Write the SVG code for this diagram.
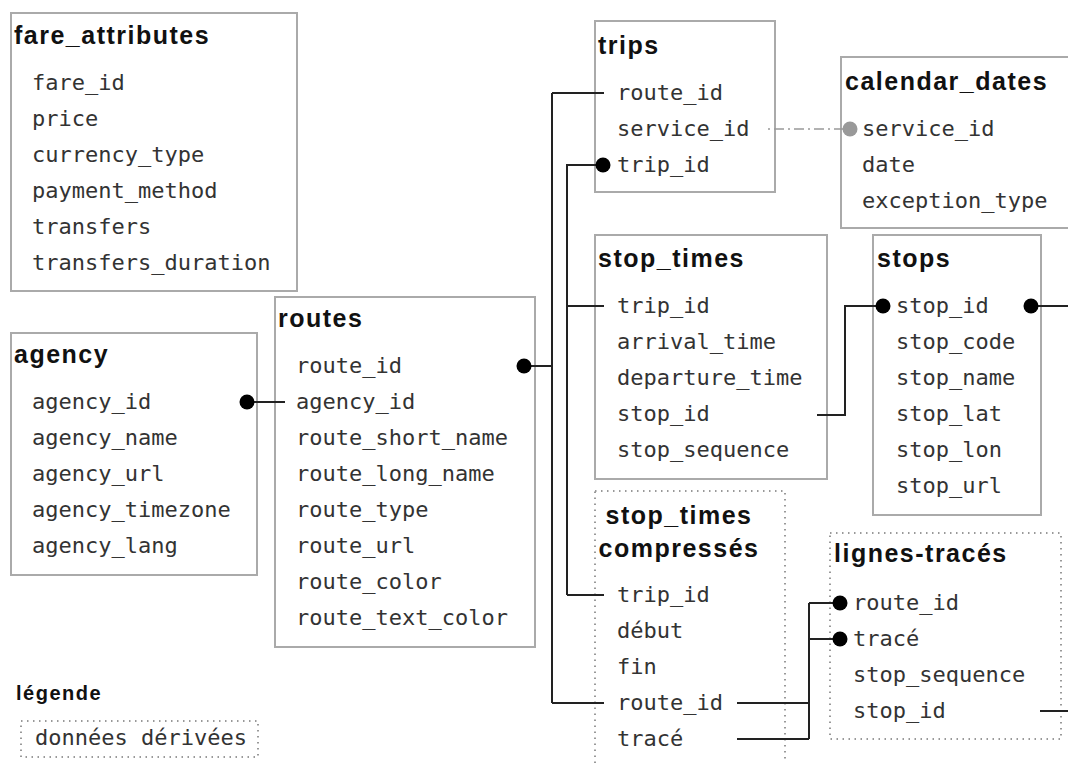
<svg xmlns="http://www.w3.org/2000/svg" width="1068" height="763" viewBox="0 0 1068 763">
  <style>
    .box { fill: #fff; stroke: #aaa; stroke-width: 2; }
    .derived { fill: #fff; stroke: #999; stroke-width: 2; stroke-dasharray: 1.5 4.5; }
    .title { font-family: "Liberation Sans", Arial, sans-serif; font-weight: bold; font-size: 25px; letter-spacing: 1.5px; fill: #111; }
    .field { font-family: "DejaVu Sans Mono", monospace; font-size: 22px; fill: #333; }
    .link { fill: none; stroke: #222; stroke-width: 2; }
    .soft { fill: none; stroke: #999; stroke-width: 1.5; stroke-dasharray: 2 4 10 4; }
    .key { fill: #000; }
    .softkey { fill: #999; }
  </style>

  <g id="fare_attributes">
    <rect class="box" x="11" y="13" width="286" height="278"/>
    <text class="title" x="14" y="44">fare_attributes</text>
    <text class="field" x="32" y="90">fare_id</text>
    <text class="field" x="32" y="126">price</text>
    <text class="field" x="32" y="162">currency_type</text>
    <text class="field" x="32" y="198">payment_method</text>
    <text class="field" x="32" y="234">transfers</text>
    <text class="field" x="32" y="270">transfers_duration</text>
  </g>

  <g id="agency">
    <rect class="box" x="11" y="333" width="246" height="242"/>
    <text class="title" x="14" y="363">agency</text>
    <text class="field" x="32" y="409">agency_id</text>
    <text class="field" x="32" y="445">agency_name</text>
    <text class="field" x="32" y="481">agency_url</text>
    <text class="field" x="32" y="517">agency_timezone</text>
    <text class="field" x="32" y="553">agency_lang</text>
  </g>

  <g id="routes">
    <rect class="box" x="275" y="297" width="260" height="350"/>
    <text class="title" x="278" y="327">routes</text>
    <text class="field" x="296" y="373">route_id</text>
    <text class="field" x="296" y="409">agency_id</text>
    <text class="field" x="296" y="445">route_short_name</text>
    <text class="field" x="296" y="481">route_long_name</text>
    <text class="field" x="296" y="517">route_type</text>
    <text class="field" x="296" y="553">route_url</text>
    <text class="field" x="296" y="589">route_color</text>
    <text class="field" x="296" y="625">route_text_color</text>
  </g>

  <g id="trips">
    <rect class="box" x="595" y="21" width="180" height="171"/>
    <text class="title" x="598" y="54">trips</text>
    <text class="field" x="617" y="100">route_id</text>
    <text class="field" x="617" y="136">service_id</text>
    <text class="field" x="617" y="172">trip_id</text>
  </g>

  <g id="calendar_dates">
    <rect class="box" x="841" y="57" width="240" height="171"/>
    <text class="title" x="845" y="90">calendar_dates</text>
    <text class="field" x="862" y="136">service_id</text>
    <text class="field" x="862" y="172">date</text>
    <text class="field" x="862" y="208">exception_type</text>
  </g>

  <g id="stop_times">
    <rect class="box" x="595" y="235" width="232" height="244"/>
    <text class="title" x="598" y="267">stop_times</text>
    <text class="field" x="617" y="313">trip_id</text>
    <text class="field" x="617" y="349">arrival_time</text>
    <text class="field" x="617" y="385">departure_time</text>
    <text class="field" x="617" y="421">stop_id</text>
    <text class="field" x="617" y="457">stop_sequence</text>
  </g>

  <g id="stops">
    <rect class="box" x="873" y="235" width="168" height="280"/>
    <text class="title" x="877" y="267">stops</text>
    <text class="field" x="896" y="313">stop_id</text>
    <text class="field" x="896" y="349">stop_code</text>
    <text class="field" x="896" y="385">stop_name</text>
    <text class="field" x="896" y="421">stop_lat</text>
    <text class="field" x="896" y="457">stop_lon</text>
    <text class="field" x="896" y="493">stop_url</text>
  </g>

  <g id="stop_times_compresses">
    <rect class="derived" x="595" y="491" width="190" height="300"/>
    <text class="title" x="679" y="524" text-anchor="middle">stop_times</text>
    <text class="title" x="679" y="557" text-anchor="middle">compressés</text>
    <text class="field" x="617" y="602">trip_id</text>
    <text class="field" x="617" y="638">début</text>
    <text class="field" x="617" y="674">fin</text>
    <text class="field" x="617" y="710">route_id</text>
    <text class="field" x="617" y="746">tracé</text>
  </g>

  <g id="lignes_traces">
    <rect class="derived" x="830" y="533" width="231" height="206"/>
    <text class="title" x="834" y="562">lignes-tracés</text>
    <text class="field" x="853" y="610">route_id</text>
    <text class="field" x="853" y="646">tracé</text>
    <text class="field" x="853" y="682">stop_sequence</text>
    <text class="field" x="853" y="718">stop_id</text>
  </g>

  <g id="legende">
    <text class="title" x="16" y="700" style="font-size:20px;letter-spacing:1.5px">légende</text>
    <rect class="derived" x="21" y="721" width="237" height="36"/>
    <text class="field" x="35" y="745">données dérivées</text>
  </g>

  <!-- relationships between tables, drawn over the boxes -->
  <g id="connectors">
    <!-- agency.agency_id -> routes.agency_id -->
    <path class="link" d="M247 402 H285"/>
    <circle class="key" cx="247" cy="402" r="7.5"/>
    <!-- routes.route_id -> trips / stop_times compressés -->
    <path class="link" d="M524 366 H552 M552 93 V703 M552 93 H604 M552 703 H604"/>
    <circle class="key" cx="524" cy="366" r="7.5"/>
    <!-- trips.trip_id -> stop_times / stop_times compressés -->
    <path class="link" d="M603 165 H567 V595 M567 306 H604 M567 595 H604"/>
    <circle class="key" cx="603" cy="165" r="7.5"/>
    <!-- trips.service_id -> calendar_dates.service_id -->
    <path class="soft" d="M768 129 H846"/>
    <circle class="softkey" cx="850" cy="129" r="7.5"/>
    <!-- stop_times.stop_id -> stops.stop_id -->
    <path class="link" d="M817 415 H845 V306 H883"/>
    <circle class="key" cx="883" cy="306" r="7.5"/>
    <!-- stops.stop_id continues to the right -->
    <path class="link" d="M1031 306 H1068"/>
    <circle class="key" cx="1031" cy="306" r="7.5"/>
    <!-- stop_times compressés -> lignes-tracés -->
    <path class="link" d="M737 703 H809 M737 739 H809 M809 603 V739 M809 603 H839 M809 639 H839"/>
    <circle class="key" cx="840" cy="603" r="7.5"/>
    <circle class="key" cx="840" cy="639" r="7.5"/>
    <!-- lignes-tracés.stop_id continues to the right -->
    <path class="link" d="M1040 711 H1068"/>
  </g>
</svg>
